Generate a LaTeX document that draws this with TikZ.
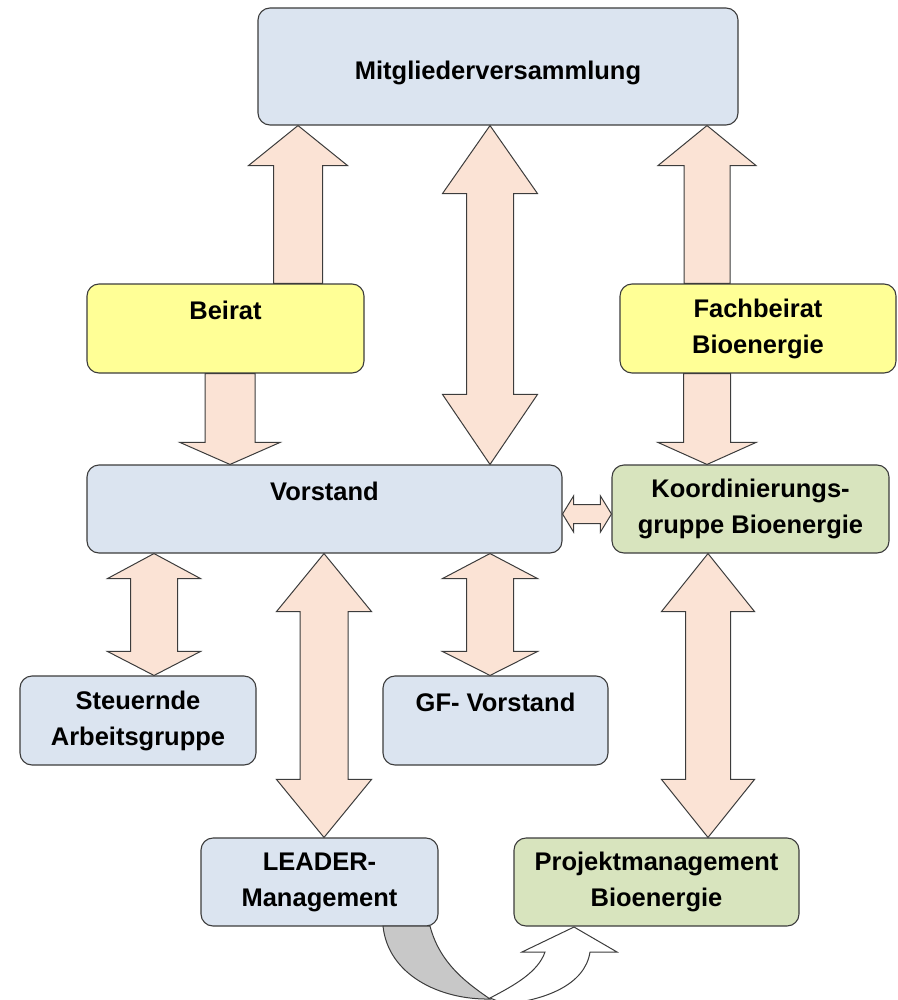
\documentclass[tikz,border=0pt]{standalone}
\usepackage{fontspec}
\setmainfont{Liberation Sans}
\usetikzlibrary{calc}
\definecolor{boxblue}{RGB}{219,228,240}
\definecolor{boxyellow}{RGB}{255,255,150}
\definecolor{boxgreen}{RGB}{216,228,190}
\definecolor{peach}{RGB}{251,227,213}
\definecolor{edge}{RGB}{60,60,60}
\definecolor{curvegray}{RGB}{200,200,200}
\newcommand\arrUp[5]{%
 \draw[barrow] let \p1=(#1), \p2=(#2) in
 (\x1,\y1) -- ({\x1+#4pt},{\y1-#5pt}) -- ({\x1+#3pt},{\y1-#5pt}) -- ({\x1+#3pt},\y2)
 -- ({\x1-#3pt},\y2) -- ({\x1-#3pt},{\y1-#5pt}) -- ({\x1-#4pt},{\y1-#5pt}) -- cycle;}
\newcommand\arrDown[5]{%
 \draw[barrow] let \p1=(#1), \p2=(#2) in
 (\x1,\y1) -- ({\x1+#4pt},{\y1+#5pt}) -- ({\x1+#3pt},{\y1+#5pt}) -- ({\x1+#3pt},\y2)
 -- ({\x1-#3pt},\y2) -- ({\x1-#3pt},{\y1+#5pt}) -- ({\x1-#4pt},{\y1+#5pt}) -- cycle;}
\newcommand\arrVV[6]{%
 \draw[barrow] let \p1=(#1), \p2=(#2) in
 (\x1,\y1) -- ({\x1+#4pt},{\y1-#5pt}) -- ({\x1+#3pt},{\y1-#5pt})
 -- ({\x1+#3pt},{\y2+#6pt}) -- ({\x1+#4pt},{\y2+#6pt}) -- (\x1,\y2)
 -- ({\x1-#4pt},{\y2+#6pt}) -- ({\x1-#3pt},{\y2+#6pt})
 -- ({\x1-#3pt},{\y1-#5pt}) -- ({\x1-#4pt},{\y1-#5pt}) -- cycle;}
\newcommand\arrHH[5]{%
 \draw[barrow] let \p1=(#1), \p2=(#2) in
 (\x1,\y1) -- ({\x1+#5pt},{\y1+#4pt}) -- ({\x1+#5pt},{\y1+#3pt})
 -- ({\x2-#5pt},{\y1+#3pt}) -- ({\x2-#5pt},{\y1+#4pt}) -- (\x2,\y1)
 -- ({\x2-#5pt},{\y1-#4pt}) -- ({\x2-#5pt},{\y1-#3pt})
 -- ({\x1+#5pt},{\y1-#3pt}) -- ({\x1+#5pt},{\y1-#4pt}) -- cycle;}
\begin{document}
\begin{tikzpicture}[x=1pt,y=-1pt,
  box/.style={draw=edge, line width=1.1pt, rounded corners=12pt, align=center,
    font=\fontsize{25.5}{36}\selectfont\bfseries, inner sep=0pt},
  blue/.style={box, fill=boxblue},
  yellow/.style={box, fill=boxyellow},
  green/.style={box, fill=boxgreen},
  barrow/.style={fill=peach, draw=edge, line width=1pt, line join=miter},
  curved/.style={draw=edge, line width=1pt}]
\useasboundingbox (0,0) rectangle (897,1000);
% boxes
\node[blue, minimum width=480pt, minimum height=117pt, text height=30.5pt, text depth=5.4pt] (mv) at (498,66.5) {Mitgliederversammlung};
\node[yellow, minimum width=277pt, minimum height=89pt] (beirat) at (225.5,328.5) {Beirat\\\phantom{B}};
\node[yellow, minimum width=276pt, minimum height=89pt] (fach) at (758,328.5) {Fachbeirat\\Bioenergie};
\node[blue, minimum width=475pt, minimum height=88pt] (vor) at (324.5,509) {Vorstand\\\phantom{V}};
\node[green, minimum width=277pt, minimum height=88pt] (koord) at (750.5,509) {Koordinierungs-\\gruppe Bioenergie};
\node[blue, minimum width=236pt, minimum height=89pt] (steu) at (138,720.5) {Steuernde\\Arbeitsgruppe};
\node[blue, minimum width=225pt, minimum height=89pt] (gf) at (495.5,720.5) {GF- Vorstand\\\phantom{G}};
\node[blue, minimum width=237pt, minimum height=88pt] (leader) at (319.5,882) {LEADER-\\Management};
\node[green, minimum width=285pt, minimum height=88pt] (proj) at (656.5,882) {Projektmanagement\\Bioenergie};
% block arrows
\arrUp{298,0 |- mv.south}{298,0 |- beirat.north}{24.5}{49.5}{40}
\arrDown{230,0 |- vor.north}{230,0 |- beirat.south}{25}{50}{22}
\arrVV{490,0 |- mv.south}{490,0 |- vor.north}{23.5}{47.5}{68}{70}
\arrUp{707,0 |- mv.south}{707,0 |- fach.north}{23}{49}{40}
\arrDown{707,0 |- koord.north}{707,0 |- fach.south}{23.5}{49}{22}
\arrHH{vor.east |- 0,514}{koord.west |- 0,514}{9.5}{18}{11}
\arrVV{154,0 |- vor.south}{154,0 |- steu.north}{23.5}{46.5}{25}{24}
\arrVV{324,0 |- vor.south}{324,0 |- leader.north}{24}{47.5}{58}{58}
\arrVV{490,0 |- vor.south}{490,0 |- gf.north}{23.5}{47.5}{25}{24}
\arrVV{708,0 |- koord.south}{708,0 |- proj.north}{22.5}{46.5}{58}{58}
% curved arrow from LEADER to Projektmanagement
\draw[curved, fill=white] (490,998) .. controls (515,985) and (538,972) .. (545,952)
  -- (522,952) -- (574,927) -- (617,952) -- (590,952)
  .. controls (585,985) and (545,1000) .. (505,1004) -- cycle;
\draw[curved, fill=curvegray] (383,926) .. controls (388,975) and (440,1000) .. (490,999)
  .. controls (470,985) and (440,965) .. (430,926) -- cycle;
\end{tikzpicture}
\end{document}
